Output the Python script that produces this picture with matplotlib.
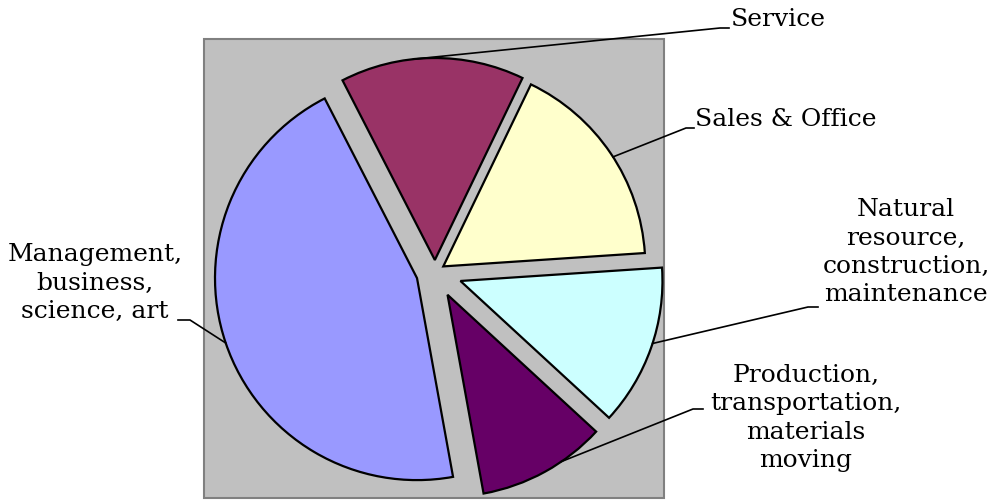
import matplotlib
matplotlib.use('Agg')
import matplotlib.pyplot as plt
from matplotlib.patches import Rectangle
import numpy as np

# occupation shares (percent), clockwise from the top slice
labels = ['Service', 'Sales & Office',
          'Natural\nresource,\nconstruction,\nmaintenance',
          'Production,\ntransportation,\nmaterials\nmoving',
          'Management,\nbusiness,\nscience, art']
shares = [14.7, 16.8, 12.9, 10.3, 45.3]
colors = ['#993366', '#FFFFCC', '#CCFFFF', '#660066', '#9999FF']
# slice offsets in pixels
explode = [12, 10, 27, 26, 19]

# label text anchors, leader elbows (pixel space, y from top) and where
# along each slice's arc the leader starts (0..1 of its angular span)
text_pos = [(731, 19, 'left'), (695, 120, 'left'), (906, 252, 'center'),
            (806, 418, 'center'), (95, 283, 'center')]
elbows = [((720, 28), (729, 28)), ((686, 128), (694, 128)),
          ((808, 307), (818, 307)), ((693, 409), (703, 409)),
          ((190, 320), (178, 320))]
attach = [0.6, 0.48, 0.53, 0.65, 0.5]

W, H = 999, 500
fig = plt.figure(figsize=(9.99, 5.0), dpi=100)
ax = fig.add_axes([0, 0, 1, 1])

# plot area
ax.add_patch(Rectangle((204, H - 498), 460, 459, facecolor='#C0C0C0',
                       edgecolor='#808080', linewidth=1.5, zorder=0))

R = 202
wedges, _ = ax.pie(shares, colors=colors, explode=explode, radius=R,
                   center=(435, H - 272), startangle=117.2, counterclock=False,
                   wedgeprops=dict(edgecolor='black', linewidth=1.6),
                   frame=True)
ax.set_xlim(0, W)
ax.set_ylim(0, H)
ax.set_aspect('equal')
ax.axis('off')

for w, lab, (tx, ty, ha), (e1, e2), f in zip(wedges, labels, text_pos, elbows, attach):
    a = np.deg2rad(w.theta1 + f * (w.theta2 - w.theta1))
    px = w.center[0] + w.r * np.cos(a)
    py = w.center[1] + w.r * np.sin(a)
    ax.plot([px, e1[0], e2[0]], [py, H - e1[1], H - e2[1]],
            color='black', linewidth=1.2, zorder=5)
    ax.text(tx, H - ty, lab, ha=ha, va='center', fontsize=18,
            family='DejaVu Serif', linespacing=1.28, multialignment='center')

fig.savefig('out.png', dpi=100)
